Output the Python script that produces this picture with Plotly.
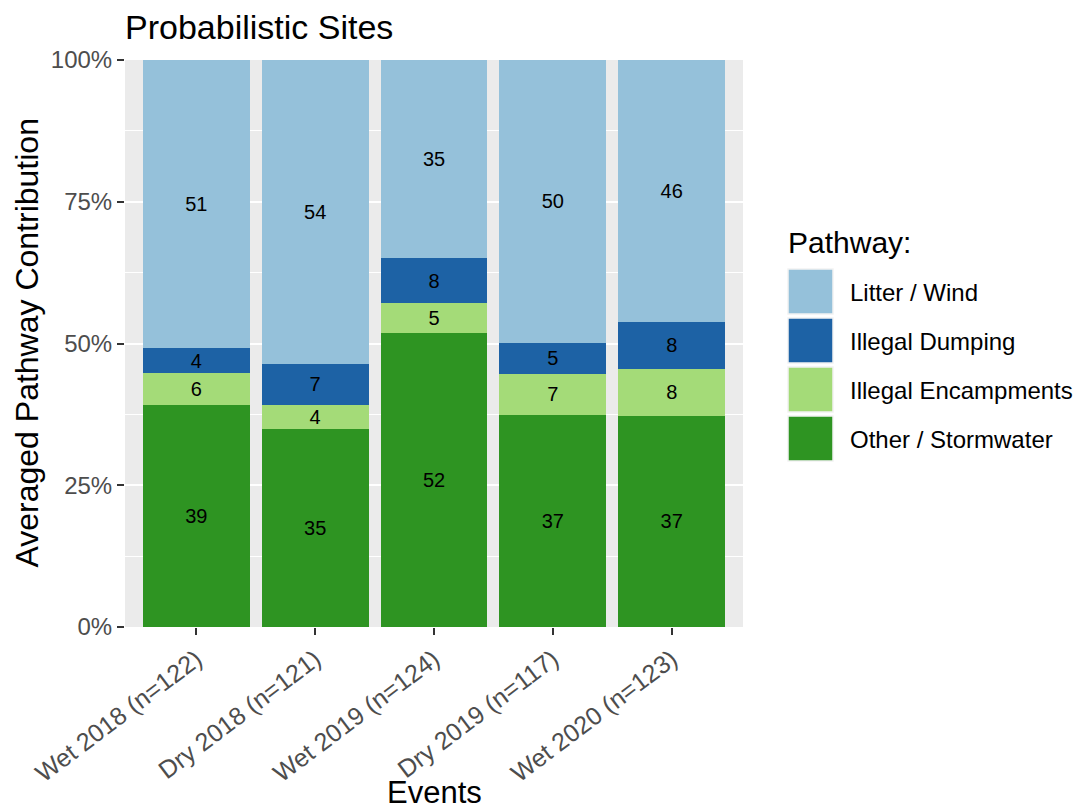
import plotly.graph_objects as go

# ---------------- data ----------------
events = ["Wet 2018 (n=122)", "Dry 2018 (n=121)", "Wet 2019 (n=124)",
          "Dry 2019 (n=117)", "Wet 2020 (n=123)"]
pathways = ["Other / Stormwater", "Illegal Encampments", "Illegal Dumping", "Litter / Wind"]
other_stormwater = [39.2, 34.9, 51.9, 37.4, 37.3]
illegal_encampments = [5.6, 4.3, 5.3, 7.3, 8.2]
illegal_dumping = [4.4, 7.2, 7.8, 5.4, 8.3]
litter_wind = [50.8, 53.6, 35.0, 49.9, 46.2]
y_tickvals = [0, 25, 50, 75, 100]
y_ticktext = ["0%", "25%", "50%", "75%", "100%"]

series = [other_stormwater, illegal_encampments, illegal_dumping, litter_wind]
colors = ["#2E9422", "#A4DB78", "#1D62A5", "#95C1DA"]

FONT = "Liberation Sans, Arial, Helvetica, sans-serif"

# page body has an 8px margin; work in reference pixel coords minus that offset
OFF = 8
W, H = 1086 - OFF, 809 - OFF
L, T = 125 - OFF, 60 - OFF
PW, PH = 618, 567
R = W - L - PW
B = H - T - PH


def px_x(x):
    return (x - OFF - L) / PW


def px_y(y):
    return (T + PH - (y - OFF)) / PH


fig = go.Figure()
for name, vals, col in zip(pathways, series, colors):
    fig.add_trace(go.Bar(
        x=events, y=vals, name=name,
        marker=dict(color=col, line=dict(width=0)),
        texttemplate="%{y:.0f}", textposition="inside",
        insidetextanchor="middle", textangle=0,
        textfont=dict(family=FONT, size=20, color="black"),
        showlegend=False,
    ))

annotations = []
shapes = []

# axis titles
annotations.append(dict(text="Averaged Pathway Contribution", x=px_x(26), y=0.5,
                        xref="paper", yref="paper", xanchor="center", yanchor="middle",
                        textangle=-90, showarrow=False,
                        font=dict(family=FONT, size=32, color="black")))
annotations.append(dict(text="Events", x=px_x(434), y=px_y(792),
                        xref="paper", yref="paper", xanchor="center", yanchor="middle",
                        showarrow=False,
                        font=dict(family=FONT, size=31, color="black")))

# custom legend (ggplot-like large keys)
annotations.append(dict(text="Pathway:", x=px_x(786), y=px_y(242),
                        xref="paper", yref="paper", xanchor="left", yanchor="middle",
                        showarrow=False,
                        font=dict(family=FONT, size=30, color="black")))
legend_order = list(reversed(range(len(pathways))))
for i, k in enumerate(legend_order):
    top = 269 + 49 * i
    shapes.append(dict(type="rect", xref="paper", yref="paper",
                       x0=px_x(788), x1=px_x(833), y0=px_y(top + 45), y1=px_y(top),
                       fillcolor=colors[k], line=dict(color="#F2F2F2", width=1.5)))
    annotations.append(dict(text=pathways[k], x=px_x(848), y=px_y(top + 23),
                            xref="paper", yref="paper", xanchor="left", yanchor="middle",
                            showarrow=False,
                            font=dict(family=FONT, size=24, color="black")))

fig.update_layout(
    width=W, height=H,
    margin=dict(l=L, r=R, t=T, b=B, pad=0),
    paper_bgcolor="white", plot_bgcolor="#EBEBEB",
    barmode="stack", bargap=0.1,
    font=dict(family=FONT),
    title=dict(text="Probabilistic Sites", x=(125 - OFF) / W, xanchor="left", xref="container",
               y=1 - (27 - OFF) / H, yanchor="middle", yref="container",
               font=dict(family=FONT, size=34, color="black")),
    annotations=annotations, shapes=shapes,
    showlegend=False,
    uniformtext=dict(minsize=20, mode="show"),
)

fig.update_xaxes(
    type="category", range=[-0.6, 4.6],
    showgrid=True, gridcolor="white", gridwidth=2,
    ticks="outside", ticklen=7, tickwidth=2, tickcolor="#333333",
    tickangle=-37,
    tickfont=dict(family=FONT, size=25, color="#4D4D4D"),
    showline=False, zeroline=False,
)
fig.update_yaxes(
    range=[0, 100], tickvals=y_tickvals, ticktext=y_ticktext,
    showgrid=True, gridcolor="white", gridwidth=2,
    minor=dict(dtick=12.5, tick0=0, showgrid=True, gridcolor="white", gridwidth=1, ticks=""),
    ticks="outside", ticklen=7, tickwidth=2, tickcolor="#333333",
    tickfont=dict(family=FONT, size=24, color="#4D4D4D"),
    showline=False, zeroline=False,
)

fig.write_html("out.html")
